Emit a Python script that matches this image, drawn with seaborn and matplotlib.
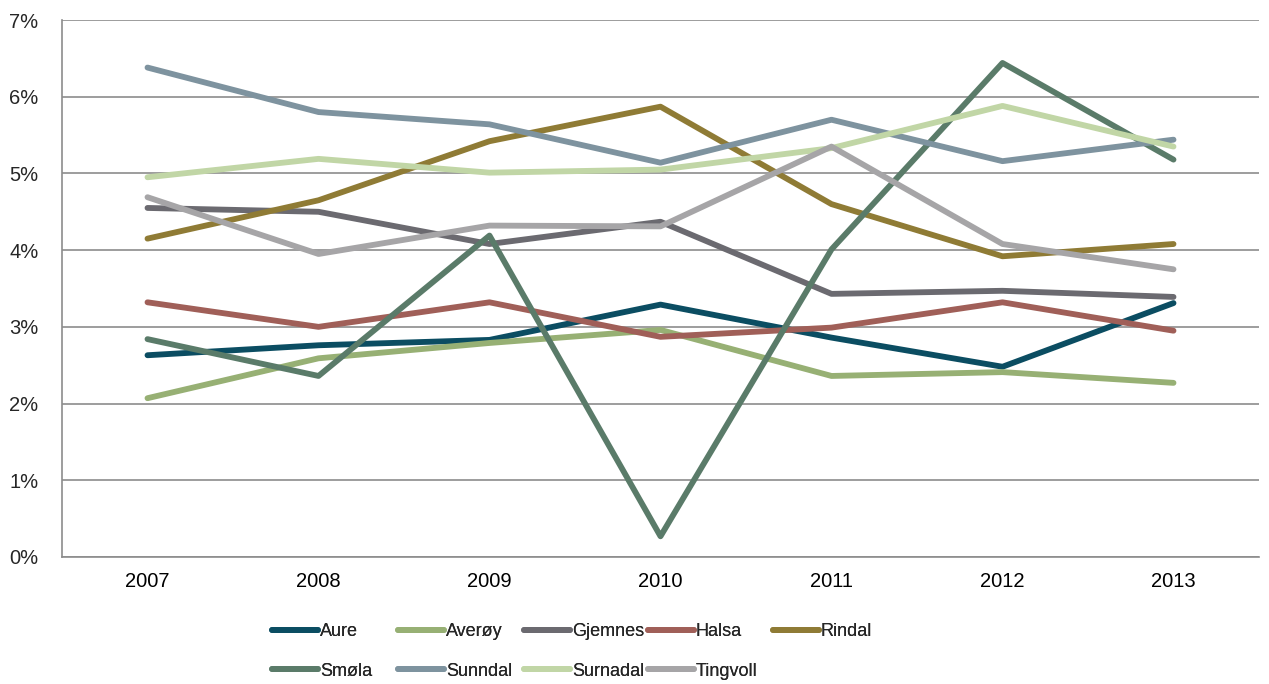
import matplotlib
matplotlib.use("Agg")
import matplotlib.pyplot as plt
import seaborn as sns
import pandas as pd
import numpy as np
from matplotlib.ticker import FixedLocator, FuncFormatter
from matplotlib.lines import Line2D

years = ["2007", "2008", "2009", "2010", "2011", "2012", "2013"]
aure = [2.63, 2.76, 2.83, 3.29, 2.86, 2.48, 3.31]
averoy = [2.07, 2.59, 2.79, 2.96, 2.36, 2.41, 2.27]
gjemnes = [4.55, 4.50, 4.08, 4.37, 3.43, 3.47, 3.39]
halsa = [3.32, 3.00, 3.32, 2.87, 2.99, 3.32, 2.95]
rindal = [4.15, 4.65, 5.42, 5.87, 4.60, 3.92, 4.08]
smola = [2.84, 2.36, 4.19, 0.27, 4.01, 6.44, 5.18]
sunndal = [6.38, 5.80, 5.64, 5.14, 5.70, 5.16, 5.44]
surnadal = [4.95, 5.19, 5.01, 5.05, 5.33, 5.88, 5.35]
tingvoll = [4.69, 3.95, 4.32, 4.31, 5.35, 4.08, 3.75]

names = ["Aure", "Averøy", "Gjemnes", "Halsa", "Rindal", "Smøla", "Sunndal", "Surnadal", "Tingvoll"]
series = [aure, averoy, gjemnes, halsa, rindal, smola, sunndal, surnadal, tingvoll]
colors = ["#0b4d62", "#97b074", "#6b6a70", "#a05f58", "#8f7b35",
          "#5a7b69", "#7e939f", "#c1d6a6", "#a6a5a7"]

rows = []
for n, s in zip(names, series):
    for i, (y, v) in enumerate(zip(years, s)):
        rows.append({"idx": i, "year": y, "value": v, "kommune": n})
df = pd.DataFrame(rows)

sns.set_style("white")
plt.rcParams["font.family"] = ["Liberation Sans", "DejaVu Sans"]
FS = 14.5
LFS = 13
LW = 4.2

fig = plt.figure(figsize=(12.69, 6.84), dpi=100)
ax = fig.add_axes([62 / 1269, 1 - 557 / 684, (1259 - 62) / 1269, (557 - 20) / 684])

sns.lineplot(data=df, x="idx", y="value", hue="kommune", palette=dict(zip(names, colors)),
             hue_order=names, linewidth=LW, ax=ax, legend=False,
             solid_capstyle="round", solid_joinstyle="round")

ax.set_xlim(-0.5, 6.5)
ax.set_ylim(0, 7)
ax.set_xlabel("")
ax.set_ylabel("")
ax.set_xticks(range(len(years)))
ax.set_xticklabels(years)
ax.xaxis.set_minor_locator(FixedLocator(np.arange(-0.5, 7, 1)))
ax.tick_params(axis="x", which="major", length=0, pad=11, labelsize=FS, colors="black")
ax.tick_params(axis="x", which="minor", length=6, width=1.2, color="#8c8c8c", direction="out")
ax.set_yticks(range(0, 8))
ax.yaxis.set_major_formatter(FuncFormatter(lambda v, p: f"{int(v)}%"))
ax.tick_params(axis="y", length=6, width=1.2, color="#8c8c8c", direction="out", labelsize=FS, pad=11)
ax.grid(axis="y", color="#8c8c8c", linewidth=1.2)
ax.set_axisbelow(True)
for side in ["top", "right"]:
    ax.spines[side].set_visible(False)
for side in ["left", "bottom"]:
    ax.spines[side].set_color("#8c8c8c")
    ax.spines[side].set_linewidth(1.2)

handles = [Line2D([0], [0], color=c, linewidth=LW, solid_capstyle="round") for c in colors]
col_x = [272, 398, 524, 648, 773]
for c in range(5):
    idx = [c] + ([c + 5] if c + 5 < len(names) else [])
    lg = fig.legend([handles[i] for i in idx], [names[i] for i in idx],
                    loc="upper left", bbox_to_anchor=(col_x[c] / 1269, 1 - 623 / 684),
                    frameon=False, fontsize=LFS, handlelength=2.55, handletextpad=0.1,
                    labelspacing=1.25, borderpad=0, borderaxespad=0)
    fig.add_artist(lg)

fig.savefig("out.png", dpi=100)
